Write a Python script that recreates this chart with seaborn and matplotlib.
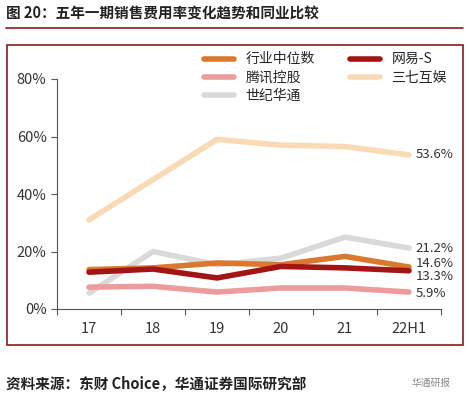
import numpy as np
import pandas as pd
import seaborn as sns
import matplotlib.pyplot as plt
from matplotlib.patches import Rectangle
from matplotlib.lines import Line2D

years = ['17', '18', '19', '20', '21', '22H1']
median = [13.7, 14.3, 16.0, 15.4, 18.3, 14.6]
netease = [12.8, 13.9, 10.8, 14.8, 14.3, 13.3]
tencent = [7.6, 7.9, 5.9, 7.3, 7.3, 5.9]
sanqi = [31.0, 45.0, 59.0, 57.0, 56.5, 53.6]
shiji = [5.5, 20.0, 15.4, 17.7, 25.0, 21.2]

names = ['行业中位数', '网易-S', '腾讯控股', '三七互娱', '世纪华通']
colors = ['#D9782E', '#A31515', '#EC9C9C', '#FAD9B5', '#D9D9D9']
series = [median, netease, tencent, sanqi, shiji]

sns.set_style('white')
plt.rcParams['font.family'] = ['Noto Sans CJK SC', 'DejaVu Sans']

df = pd.DataFrame({
    'x': np.tile(np.arange(len(years)), len(names)),
    'v': np.concatenate(series),
    'name': np.repeat(names, len(years)),
})

fig = plt.figure(figsize=(4.69, 4.05), dpi=100)
ax = fig.add_axes([57 / 469, 1 - 309 / 405, 384 / 469, 230 / 405])
# draw order: light ones first, darker on top
order = ['三七互娱', '世纪华通', '腾讯控股', '行业中位数', '网易-S']
for nm in order:
    sub = df[df['name'] == nm]
    sns.lineplot(data=sub, x='x', y='v', ax=ax, color=colors[names.index(nm)],
                 lw=4, legend=False)

ax.set_xlim(-0.5, 5.5)
ax.set_ylim(0, 80)
ax.set_yticks([0, 20, 40, 60, 80])
ax.set_yticklabels([f'{t}%' for t in [0, 20, 40, 60, 80]], color='#333333', fontsize=10.5)
ax.set_xticks(np.arange(-0.5, 6, 1))
ax.set_xticklabels([])
ax.tick_params(axis='both', length=4, color='#555555', direction='out', left=True, bottom=True)
for i, y in enumerate(years):
    ax.text(i, -4.5, y, ha='center', va='top', fontsize=10.5, color='#333333')
ax.set_xlabel('')
ax.set_ylabel('')
for s in ['top', 'right']:
    ax.spines[s].set_visible(False)
for s in ['left', 'bottom']:
    ax.spines[s].set_color('#555555')

# end labels
for val, y in [(53.6, 53.6), (21.2, 21.2), (14.6, 15.8), (13.3, 11.3), (5.9, 5.3)]:
    ax.text(5.1, y, f'{val}%', va='center', ha='left', fontsize=9.5, color='#333333')

# legend filled row by row like the reference
leg_order = [0, 2, 4, 1, 3]
handles = [Line2D([], [], color=colors[i], lw=4) for i in leg_order]
labels = [names[i] for i in leg_order]
ax.legend(handles, labels, ncol=2, loc='upper left', bbox_to_anchor=(0.35, 1.17),
          frameon=False, fontsize=10, handlelength=2.2, columnspacing=2.5,
          labelspacing=0.3)

# frame, title, footer
fig.patches.append(Rectangle((7 / 469, 1 - 345 / 405), 456 / 469, 300 / 405,
                             transform=fig.transFigure, fill=False,
                             ec='#8B1A1A', lw=1.2))
fig.text(6 / 469, 1 - 14 / 405, '图 20：五年一期销售费用率变化趋势和同业比较',
         fontsize=10.5, fontweight='bold', va='center', color='#222222')
fig.add_artist(Line2D([6 / 469, 463 / 469], [1 - 28 / 405] * 2, color='#8B1A1A', lw=1.2))
fig.text(6 / 469, 1 - 383 / 405, '资料来源：东财 Choice，华通证券国际研究部',
         fontsize=10.5, fontweight='bold', va='center', color='#222222')
fig.text(412 / 469, 1 - 383 / 405, '华通研报', fontsize=7, va='center', color='#888888')

plt.savefig('out.png', dpi=100)
